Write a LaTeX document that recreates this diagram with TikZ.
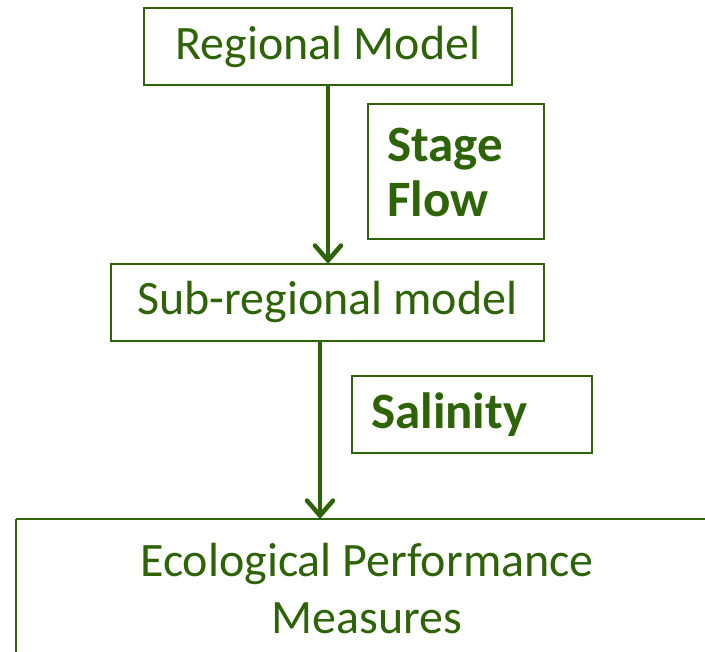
\documentclass[tikz,border=0pt]{standalone}
\usepackage{fontspec}
\setmainfont{Carlito}
\usetikzlibrary{arrows.meta}
\definecolor{dg}{RGB}{46,99,8}
\tikzset{
  box/.style={draw=dg, line width=2.5pt, text=dg, inner sep=0pt},
  lbl/.style={text=dg, font=\fontsize{48}{57}\selectfont, inner sep=0pt},
  blbl/.style={text=dg, font=\fontsize{51}{55}\bfseries\selectfont, inner sep=0pt, align=left},
  flow/.style={draw=dg, line width=4.5pt, -{Straight Barb[length=15pt,width=26pt,line cap=round]}}
}
\begin{document}
\begin{tikzpicture}[x=1pt,y=-1pt]
\useasboundingbox (0,0) rectangle (705,652);
% boxes
\draw[box] (144,8) rectangle (512,85);
\node[lbl] (rmt) at (328,47) {Regional Model};
\coordinate (rmb) at (328,85);

\draw[box] (368,104) rectangle (544,239);
\node[blbl, anchor=west] (sf) at (387,172) {Stage\\Flow};

\draw[box] (111,264) rectangle (544,341);
\node[lbl] (sr) at (327.5,302) {Sub-regional model};
\coordinate (srt) at (328,264);
\coordinate (srb) at (320,341);

\draw[box] (352,376) rectangle (592,453);
\node[blbl, anchor=west] (sal) at (371,415) {Salinity};

\draw[box] (16,519) -- (710,519);
\draw[box] (16,519) -- (16,660);
\node[lbl, align=center] (eco) at (367,589) {Ecological Performance\\Measures};
\coordinate (ecot) at (320,519);

\draw[flow] (rmb) -- (srt);
\draw[flow] (srb) -- (ecot);
\end{tikzpicture}
\end{document}
